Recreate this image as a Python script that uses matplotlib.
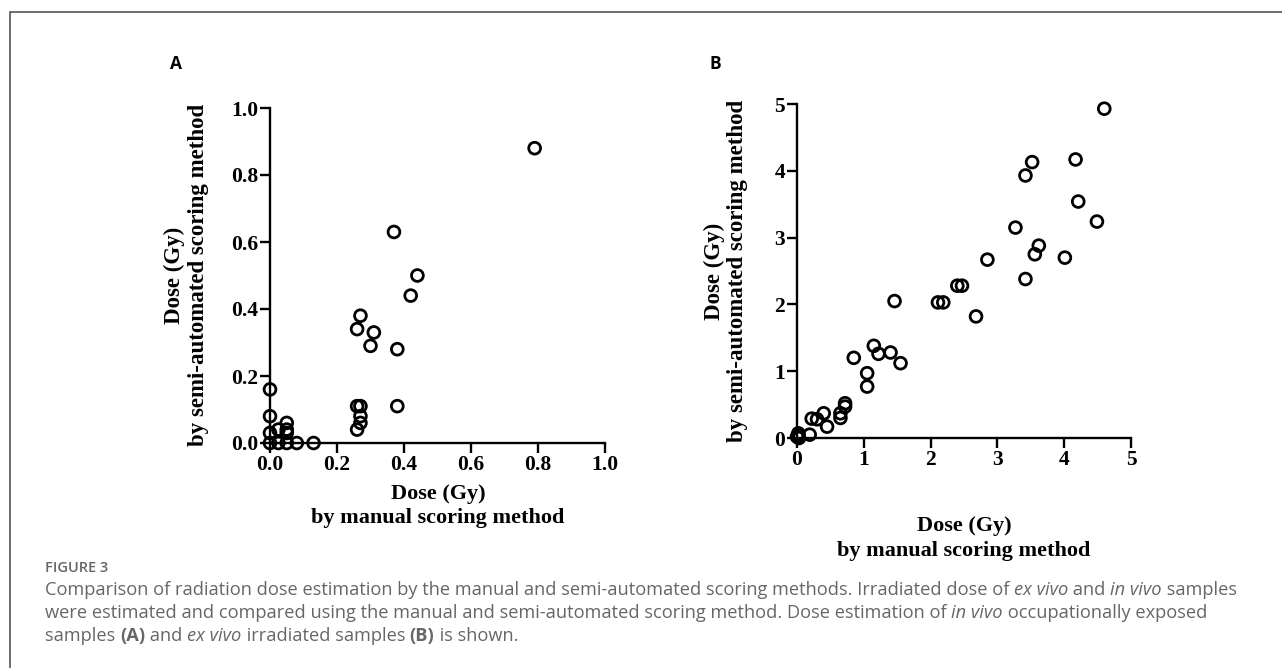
import matplotlib
matplotlib.use("Agg")
import matplotlib.pyplot as plt
from matplotlib.patches import Rectangle

# ---------------- data ----------------
# Panel A: in vivo occupationally exposed samples
a_manual = [0.79, 0.37, 0.44, 0.42, 0.27, 0.26, 0.31, 0.30, 0.38, 0.38,
            0.26, 0.27, 0.27, 0.27, 0.26,
            0.00, 0.00, 0.00, 0.00, 0.025, 0.05, 0.05, 0.05, 0.025, 0.05, 0.08, 0.13]
a_semi = [0.88, 0.63, 0.50, 0.44, 0.38, 0.34, 0.33, 0.29, 0.28, 0.11,
          0.11, 0.11, 0.08, 0.06, 0.04,
          0.16, 0.08, 0.03, 0.00, 0.04, 0.06, 0.04, 0.03, 0.00, 0.00, 0.00, 0.00]

# Panel B: ex vivo irradiated samples
b_manual = [4.60, 3.52, 3.42, 4.17, 4.21, 4.49, 3.27, 3.62, 3.56, 4.01, 3.42,
            2.85, 1.46, 2.11, 2.19, 2.40, 2.47, 2.68,
            1.15, 1.22, 1.40, 1.55, 0.85, 1.05, 1.05,
            0.72, 0.72, 0.65, 0.65, 0.40, 0.30, 0.22, 0.45, 0.19,
            0.02, 0.02, 0.03, 0.00]
b_semi = [4.93, 4.13, 3.93, 4.17, 3.54, 3.24, 3.15, 2.88, 2.75, 2.70, 2.38,
          2.67, 2.05, 2.03, 2.03, 2.28, 2.28, 1.82,
          1.38, 1.26, 1.28, 1.12, 1.20, 0.97, 0.77,
          0.52, 0.47, 0.37, 0.30, 0.37, 0.28, 0.29, 0.17, 0.05,
          0.07, 0.04, 0.00, 0.02]

a_ticks = [0.0, 0.2, 0.4, 0.6, 0.8, 1.0]
a_ticklabels = ["0.0", "0.2", "0.4", "0.6", "0.8", "1.0"]
b_ticks = [0, 1, 2, 3, 4, 5]
b_ticklabels = ["0", "1", "2", "3", "4", "5"]

label_line1 = "Dose (Gy)"
ylabel_line2 = "by semi-automated scoring method"
xlabel_line2 = "by manual scoring method"

# ---------------- figure ----------------
W, H = 1282, 668
fig = plt.figure(figsize=(W / 100, H / 100), dpi=100)

def fx(px):
    return px / W

def fy(py):
    return 1 - py / H

# border box
fig.patches.append(Rectangle((fx(10), fy(700)), fx(1300), fy(12) - fy(700),
                             transform=fig.transFigure, fill=False,
                             edgecolor="#555555", linewidth=1.2))

serif = ["Liberation Serif", "DejaVu Serif"]

def make_axes(left, top, right, bottom, xs, ys, lim, ticks, labels):
    ax = fig.add_axes([fx(left), fy(bottom), fx(right) - fx(left), fy(top) - fy(bottom)])
    ax.scatter(xs, ys, s=72, facecolors="none", edgecolors="black",
               linewidths=2.0, clip_on=False, zorder=3)
    ax.set_xlim(0, lim)
    ax.set_ylim(0, lim)
    ax.set_xticks(ticks)
    ax.set_yticks(ticks)
    ax.set_xticklabels(labels, fontfamily=serif, fontweight="bold", fontsize=15.5)
    ax.set_yticklabels(labels, fontfamily=serif, fontweight="bold", fontsize=15.5)
    for side in ["top", "right"]:
        ax.spines[side].set_visible(False)
    for side in ["left", "bottom"]:
        ax.spines[side].set_linewidth(1.7)
    ax.tick_params(direction="out", length=7, width=1.7, pad=1.5)
    ax.patch.set_alpha(0)
    return ax

axA = make_axes(270, 108, 605, 443, a_manual, a_semi, 1.0, a_ticks, a_ticklabels)
axB = make_axes(797, 104, 1131, 438, b_manual, b_semi, 5, b_ticks, b_ticklabels)

# axis labels
lab_kw = dict(fontfamily=serif, fontweight="bold", fontsize=16, ha="center", va="center")
rot_kw = dict(fontfamily=serif, fontweight="bold", fontsize=16.5, ha="center",
              va="center", rotation=90)
fig.text(fx(174), fy(275), label_line1, **rot_kw)
fig.text(fx(198), fy(275), ylabel_line2, **rot_kw)
fig.text(fx(714), fy(271), label_line1, **rot_kw)
fig.text(fx(738), fy(271), ylabel_line2, **rot_kw)
fig.text(fx(438), fy(494), label_line1, **lab_kw)
fig.text(fx(438), fy(518), xlabel_line2, **lab_kw)
fig.text(fx(964), fy(526), label_line1, **lab_kw)
fig.text(fx(964), fy(551), xlabel_line2, **lab_kw)

# panel labels
fig.text(fx(176), fy(64), "A", fontfamily="Open Sans", fontweight="bold",
         fontsize=12.5, ha="center", va="center")
fig.text(fx(715), fy(64), "B", fontfamily="Open Sans", fontweight="bold",
         fontsize=12.5, ha="center", va="center")

# caption
cap_color = "#666666"
fig.text(fx(45), fy(568), "FIGURE 3", fontfamily="Open Sans", fontweight="semibold",
         fontsize=10.5, color=cap_color, ha="left", va="center")

cap_lines = [
    [("Comparison of radiation dose estimation by the manual and semi-automated scoring methods. Irradiated dose of ", "normal", "normal"),
     ("ex vivo", "italic", "normal"), (" and ", "normal", "normal"),
     ("in vivo", "italic", "normal"), (" samples", "normal", "normal")],
    [("were estimated and compared using the manual and semi-automated scoring method. Dose estimation of ", "normal", "normal"),
     ("in vivo", "italic", "normal"), (" occupationally exposed", "normal", "normal")],
    [("samples ", "normal", "normal"), ("(A)", "normal", "bold"), (" and ", "normal", "normal"),
     ("ex vivo", "italic", "normal"), (" irradiated samples ", "normal", "normal"),
     ("(B)", "normal", "bold"), (" is shown.", "normal", "normal")],
]
cap_y = [590, 613, 636]

fig.canvas.draw()
renderer = fig.canvas.get_renderer()
for line, y in zip(cap_lines, cap_y):
    x = 45
    for txt, style, weight in line:
        t = fig.text(fx(x), fy(y), txt, fontfamily="Open Sans", fontsize=13.15,
                     style=style, fontweight=weight, color=cap_color,
                     ha="left", va="center")
        bb = t.get_window_extent(renderer)
        x += bb.width

fig.savefig("out.png", dpi=100)
